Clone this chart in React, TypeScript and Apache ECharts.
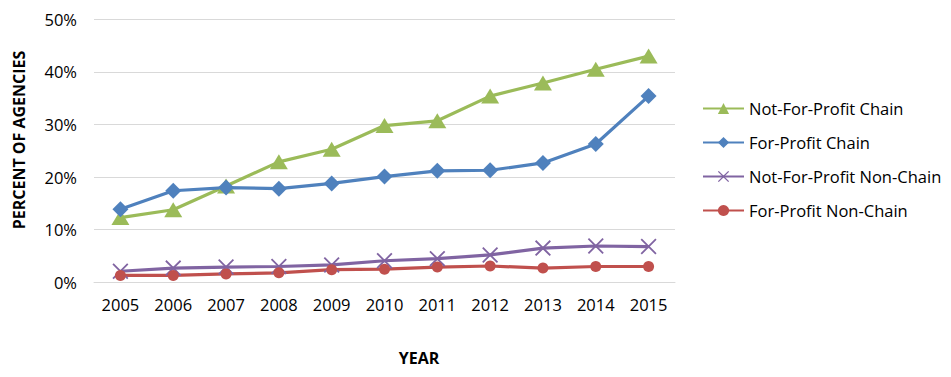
import React, { useEffect, useRef } from "react";
import * as echarts from "echarts";

const years = ["2005", "2006", "2007", "2008", "2009", "2010", "2011", "2012", "2013", "2014", "2015"];
const nfpChain = [12.3, 13.8, 18.3, 22.9, 25.3, 29.8, 30.7, 35.4, 37.9, 40.5, 43.0];
const fpChain = [13.9, 17.4, 18.0, 17.8, 18.8, 20.1, 21.2, 21.3, 22.7, 26.3, 35.4];
const nfpNonChain = [2.1, 2.7, 2.9, 3.0, 3.3, 4.1, 4.5, 5.2, 6.5, 6.9, 6.8];
const fpNonChain = [1.3, 1.3, 1.6, 1.8, 2.4, 2.5, 2.9, 3.1, 2.7, 3.0, 3.0];
const seriesNames = ["Not-For-Profit Chain", "For-Profit Chain", "Not-For-Profit Non-Chain", "For-Profit Non-Chain"];

const FONT = "'Open Sans', 'Noto Sans', sans-serif";
const xSymbol =
  "path://M0,0.8 L0.8,0 L5,4.2 L9.2,0 L10,0.8 L5.8,5 L10,9.2 L9.2,10 L5,5.8 L0.8,10 L0,9.2 L4.2,5 Z";

export default function App() {
  const ref = useRef<HTMLDivElement>(null);
  useEffect(() => {
    if (!ref.current) return;
    const chart = echarts.init(ref.current, undefined, { renderer: "svg" });
    const mk = (name: string, data: number[], color: string, symbol: string, size: any) => ({
      name,
      type: "line",
      data,
      symbol,
      symbolSize: size,
      showAllSymbol: true,
      lineStyle: { color, width: 3.2 },
      itemStyle: { color },
      emphasis: { disabled: true },
    });
    chart.setOption({
      animation: false,
      textStyle: { fontFamily: FONT },
      grid: { left: 94, right: 276, top: 19.3, bottom: 94.7, containLabel: false },
      xAxis: {
        type: "category",
        data: years,
        boundaryGap: true,
        axisLine: { show: true, lineStyle: { color: "#D9D9D9", width: 1 } },
        axisTick: { show: false },
        axisLabel: { fontSize: 16.5, color: "#000", margin: 14, fontFamily: FONT },
        splitLine: { show: false },
      },
      yAxis: {
        type: "value",
        min: 0,
        max: 50,
        interval: 10,
        axisLine: { show: false },
        axisTick: { show: false },
        axisLabel: { formatter: "{value}%", fontSize: 16.5, color: "#000", margin: 17, fontFamily: FONT },
        splitLine: { lineStyle: { color: "#D9D9D9", width: 1 } },
      },
      legend: {
        orient: "vertical",
        left: 697,
        top: 95,
        itemWidth: 41,
        itemHeight: 14,
        itemGap: 17,
        data: seriesNames,
        textStyle: { fontSize: 16.5, color: "#000", fontFamily: FONT },
      },
      graphic: [
        {
          type: "text",
          x: 19,
          y: 140,
          rotation: Math.PI / 2,
          style: {
            text: "PERCENT OF AGENCIES",
            fill: "#000",
            font: `bold 16px ${FONT}`,
            textAlign: "center",
            textVerticalAlign: "middle",
          },
        },
        {
          type: "text",
          x: 419,
          y: 358,
          style: {
            text: "YEAR",
            fill: "#000",
            font: `bold 16px ${FONT}`,
            textAlign: "center",
            textVerticalAlign: "middle",
          },
        },
      ],
      series: [
        mk(seriesNames[0], nfpChain, "#9BBB59", "triangle", [18, 15]),
        mk(seriesNames[1], fpChain, "#4F81BD", "diamond", 16),
        mk(seriesNames[2], nfpNonChain, "#8064A2", xSymbol, 16),
        mk(seriesNames[3], fpNonChain, "#C0504D", "circle", 11),
      ],
    });
    return () => chart.dispose();
  }, []);
  return <div ref={ref} style={{ width: 951, height: 377, position: "absolute", left: 0, top: 0 }} />;
}
